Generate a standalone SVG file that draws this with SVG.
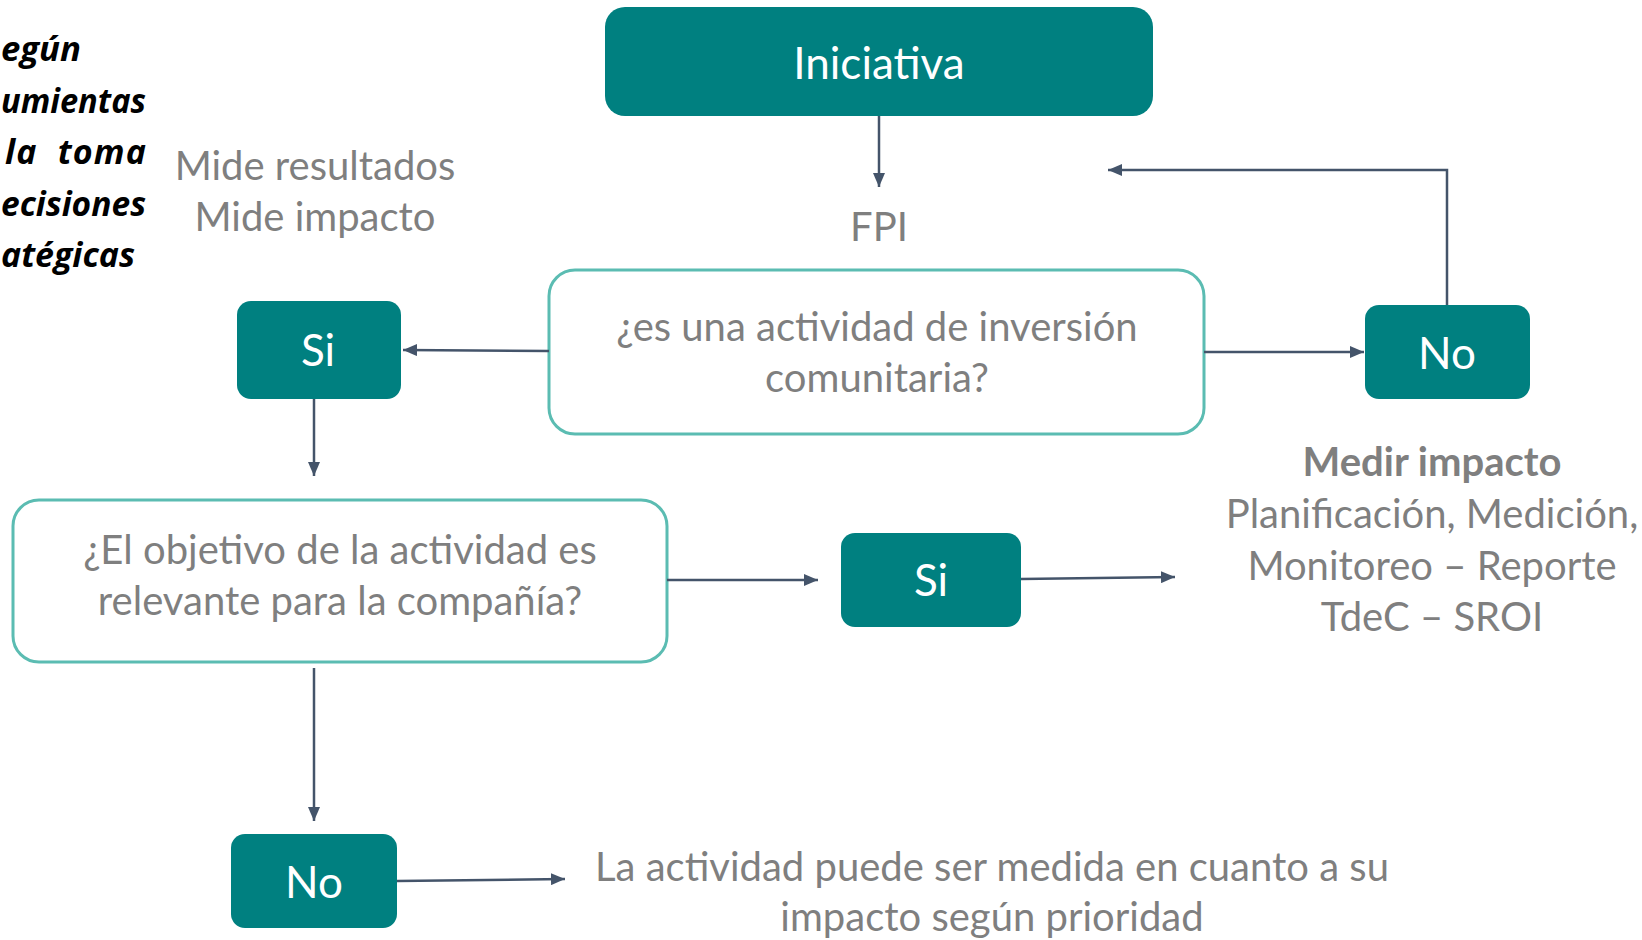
<svg xmlns="http://www.w3.org/2000/svg" width="1642" height="940" viewBox="0 0 1642 940">
<defs>
<marker id="ah" viewBox="0 0 14 12" refX="14" refY="6" markerWidth="14" markerHeight="12" markerUnits="userSpaceOnUse" orient="auto">
<path d="M0,0 L14,6 L0,12 z" fill="#44546a"/>
</marker>
<style>
.solid{fill:#008080;}
.q{fill:#ffffff;stroke:#5bbcb2;stroke-width:3;}
.wt{font-family:Lato,"Open Sans",sans-serif;fill:#ffffff;text-anchor:middle;}
.gt{font-family:Lato,"Open Sans",sans-serif;fill:#7f7f7f;text-anchor:middle;font-size:40px;}
.bk{font-family:"Open Sans",Lato,sans-serif;fill:#000000;font-weight:bold;font-style:italic;font-size:34px;}
.c{fill:none;stroke:#44546a;stroke-width:2.5;marker-end:url(#ah);}
</style>
</defs>
<rect width="1642" height="940" fill="#ffffff"/>
<g id="side-text">
<text class="bk" x="1" y="61" textLength="80" lengthAdjust="spacingAndGlyphs">egún</text>
<text class="bk" x="1" y="113" textLength="145" lengthAdjust="spacingAndGlyphs">umientas</text>
<text class="bk" x="5" y="164" textLength="141" lengthAdjust="spacing" xml:space="preserve">la  toma</text>
<text class="bk" x="1" y="216" textLength="145" lengthAdjust="spacingAndGlyphs">ecisiones</text>
<text class="bk" x="1" y="267" textLength="134" lengthAdjust="spacingAndGlyphs">atégicas</text>
</g>
<g id="mide">
<text class="gt" x="315" y="180">Mide resultados</text>
<text class="gt" x="315" y="231">Mide impacto</text>
</g>
<g id="iniciativa">
<rect class="solid" x="605" y="7" width="548" height="109" rx="20"/>
<text class="wt" x="879" y="79" font-size="44">Iniciativa</text>
</g>
<g id="fpi">
<text class="gt" x="879" y="241" font-size="42">FPI</text>
</g>
<g id="q1">
<rect class="q" x="549" y="270" width="655" height="164" rx="26"/>
<text class="gt" x="877" y="341">¿es una actividad de inversión</text>
<text class="gt" x="877" y="392">comunitaria?</text>
</g>
<g id="si1">
<rect class="solid" x="237" y="301" width="164" height="98" rx="14"/>
<text class="wt" x="318" y="366" font-size="44">Si</text>
</g>
<g id="no1">
<rect class="solid" x="1365" y="305" width="165" height="94" rx="14"/>
<text class="wt" x="1447" y="369" font-size="44">No</text>
</g>
<g id="medir">
<text class="gt" x="1432" y="476" font-weight="bold">Medir impacto</text>
<text class="gt" x="1432" y="528">Planificación, Medición,</text>
<text class="gt" x="1432" y="580">Monitoreo – Reporte</text>
<text class="gt" x="1432" y="631">TdeC – SROI</text>
</g>
<g id="q2">
<rect class="q" x="13" y="500" width="654" height="162" rx="26"/>
<text class="gt" x="340" y="564">¿El objetivo de la actividad es</text>
<text class="gt" x="340" y="615">relevante para la compañía?</text>
</g>
<g id="si2">
<rect class="solid" x="841" y="533" width="180" height="94" rx="14"/>
<text class="wt" x="931" y="596" font-size="44">Si</text>
</g>
<g id="no2">
<rect class="solid" x="231" y="834" width="166" height="94" rx="14"/>
<text class="wt" x="314" y="898" font-size="44">No</text>
</g>
<g id="result">
<text class="gt" x="992" y="881">La actividad puede ser medida en cuanto a su</text>
<text class="gt" x="992" y="931">impacto según prioridad</text>
</g>
<g id="connectors">
<path class="c" d="M879,116 L879,187"/>
<path class="c" d="M549,351 L403,350"/>
<path class="c" d="M1204,352 L1364,352"/>
<path class="c" d="M1447,305 L1447,170 L1108,170"/>
<path class="c" d="M314,399 L314,476"/>
<path class="c" d="M667,580 L818,580"/>
<path class="c" d="M1021,579 L1175,577"/>
<path class="c" d="M314,668 L314,821"/>
<path class="c" d="M397,881 L565,879"/>
</g>
</svg>
